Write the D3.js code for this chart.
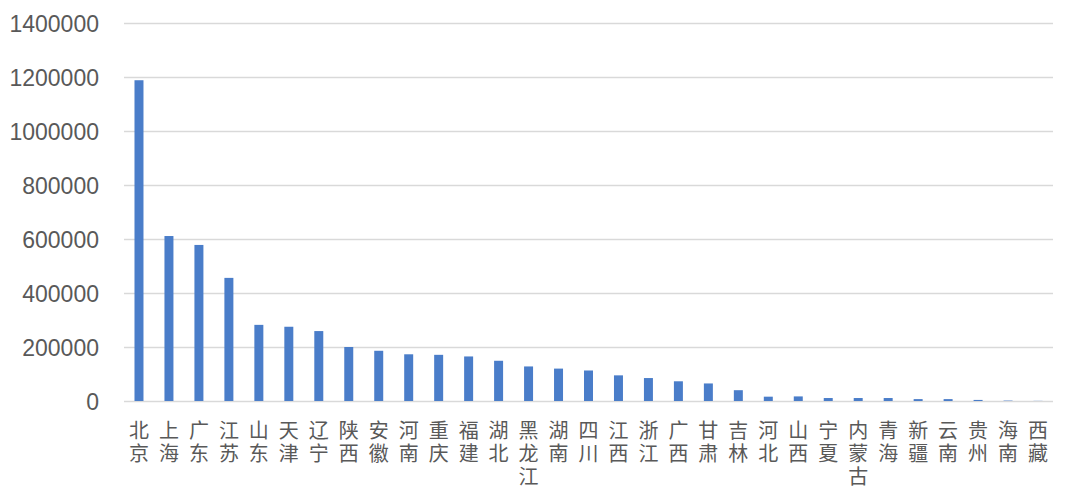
<!DOCTYPE html>
<html lang="zh">
<head>
<meta charset="UTF-8">
<title>chart</title>
<script src="https://d3js.org/d3.v7.min.js"></script>
<style>
  body { margin: 0; background: #fff; }
  .axis text { fill: #595959; font: 23px "Liberation Sans", Arial, sans-serif; }
  .cat { fill: #595959; font: 20px "Noto Sans CJK SC", sans-serif;
         writing-mode: vertical-rl; text-orientation: upright; letter-spacing: 3px; }
</style>
</head>
<body>
<svg id="chart" width="1080" height="498"></svg>
<script>
// provinces (sorted by value)
var provinces = ['北京','上海','广东','江苏','山东','天津','辽宁','陕西','安徽','河南','重庆',
  '福建','湖北','黑龙江','湖南','四川','江西','浙江','广西','甘肃','吉林','河北','山西',
  '宁夏','内蒙古','青海','新疆','云南','贵州','海南','西藏'];
var values = [1188000, 611000, 578000, 456000, 282000, 275000, 259000, 200000, 186000, 173000, 171000,
  165000, 149000, 128000, 120000, 113000, 95000, 85000, 73000, 65000, 40000, 16000, 17000,
  11000, 11000, 11000, 7000, 7000, 4000, 1500, 500];
var yTicks = [0, 200000, 400000, 600000, 800000, 1000000, 1200000, 1400000];

const width = 1080, height = 498;
const margin = { top: 23, right: 27, bottom: 97, left: 124 };

const svg = d3.select('#chart');

const x = d3.scaleBand()
  .domain(provinces)
  .range([margin.left, width - margin.right])
  .paddingInner(0.7)
  .paddingOuter(0.35);

const y = d3.scaleLinear()
  .domain([0, 1400000])
  .range([height - margin.bottom, margin.top]);

// gridlines
svg.append('g')
  .selectAll('line')
  .data(yTicks)
  .enter().append('line')
  .attr('x1', margin.left)
  .attr('x2', width - margin.right)
  .attr('y1', d => Math.round(y(d)) + 0.5)
  .attr('y2', d => Math.round(y(d)) + 0.5)
  .attr('stroke', '#d9d9d9')
  .attr('stroke-width', 1.5);

// bars
svg.append('g')
  .selectAll('rect')
  .data(values)
  .enter().append('rect')
  .attr('x', (d, i) => x(provinces[i]))
  .attr('y', d => y(d))
  .attr('width', x.bandwidth())
  .attr('height', d => y(0) - y(d))
  .attr('fill', '#4a7dc9');

// y axis (labels only)
const yAxis = svg.append('g')
  .attr('class', 'axis')
  .attr('transform', `translate(${margin.left - 22},0)`)
  .call(d3.axisLeft(y).tickValues(yTicks).tickFormat(d3.format('d')).tickSize(0));
yAxis.select('.domain').remove();
yAxis.selectAll('text').attr('dy', '0.35em');

// category labels, set vertically (one character under the other)
svg.append('g')
  .selectAll('text')
  .data(provinces)
  .enter().append('text')
  .attr('class', 'cat')
  .attr('x', d => x(d) + x.bandwidth() / 2)
  .attr('y', 420)
  .text(d => d);
</script>
</body>
</html>
